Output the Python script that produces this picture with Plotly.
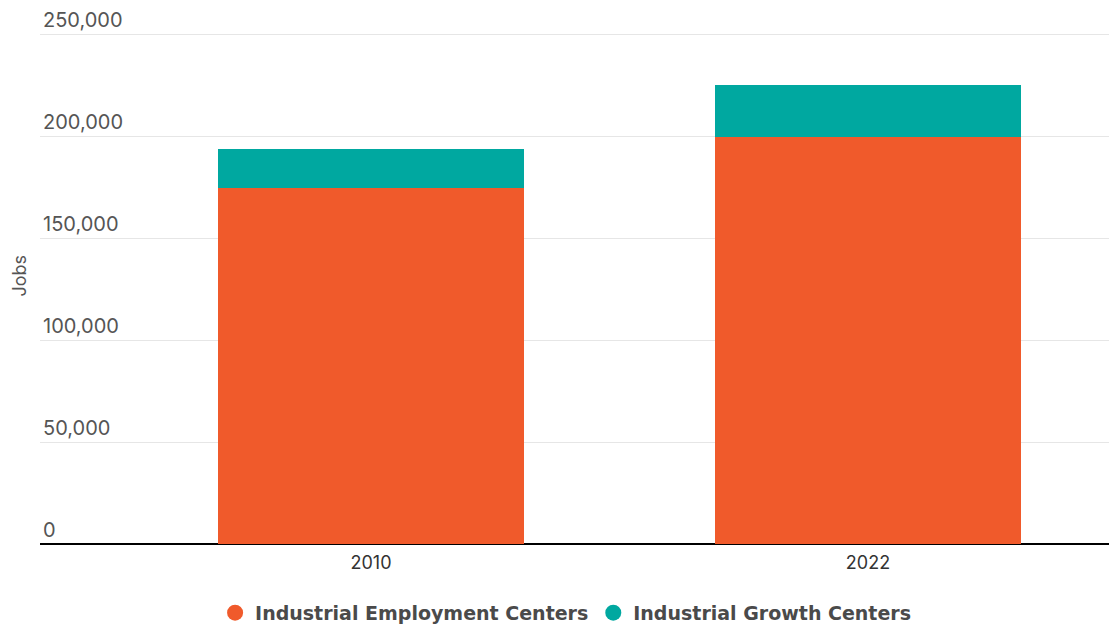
import plotly.graph_objects as go

# Job counts by year and center type
years = ["2010", "2022"]
employment_centers = [174500, 199500]
growth_centers = [19200, 25500]
y_ticks = [0, 50000, 100000, 150000, 200000, 250000]

ORANGE = "#f05a2b"
TEAL = "#00a8a0"
FONT = "Inter"

fig = go.Figure()

fig.add_trace(go.Bar(
    x=years, y=employment_centers, name="Industrial Employment Centers",
    marker=dict(color=ORANGE, line=dict(width=0)), width=0.616,
    showlegend=False,
))
fig.add_trace(go.Bar(
    x=years, y=growth_centers, name="Industrial Growth Centers",
    marker=dict(color=TEAL, line=dict(width=0)), width=0.616,
    showlegend=False,
))

# Circular legend keys
for name, color in [("Industrial Employment Centers", ORANGE),
                    ("Industrial Growth Centers", TEAL)]:
    fig.add_trace(go.Scatter(
        x=[None], y=[None], mode="markers", name=name,
        marker=dict(color=color, size=19, symbol="circle"),
    ))

fig.update_layout(
    width=1109, height=626,
    barmode="stack",
    plot_bgcolor="white", paper_bgcolor="white",
    margin=dict(l=40, r=0, t=3, b=82, autoexpand=False),
    font=dict(family=FONT, color="#555555"),
    xaxis=dict(
        type="category", range=[-0.666, 1.485],
        showgrid=False, showline=False, ticks="",
        tickfont=dict(size=18, color="#333333"),
        ticklabelstandoff=6,
    ),
    yaxis=dict(
        range=[0, 265200], tickvals=y_ticks, tickformat=",",
        ticklabelposition="inside top",
        showgrid=True, gridcolor="#e6e6e6", gridwidth=1,
        zeroline=True, zerolinecolor="#000000", zerolinewidth=2,
        showline=False, ticks="",
        tickfont=dict(size=20, color="#555555"),
    ),
    legend=dict(
        orientation="h", xref="container", yref="container",
        x=0.51, xanchor="center", y=0.021, yanchor="middle",
        font=dict(family="DejaVu Sans", size=19, color="#4a4a4a", weight="bold"),
        itemsizing="trace", traceorder="normal",
    ),
    annotations=[dict(
        text="Jobs", xref="paper", yref="paper", x=-0.0192, y=0.497,
        xanchor="center", yanchor="middle", textangle=-90, showarrow=False,
        font=dict(size=18, color="#555555"),
    )],
)

fig.write_html("out.html")
